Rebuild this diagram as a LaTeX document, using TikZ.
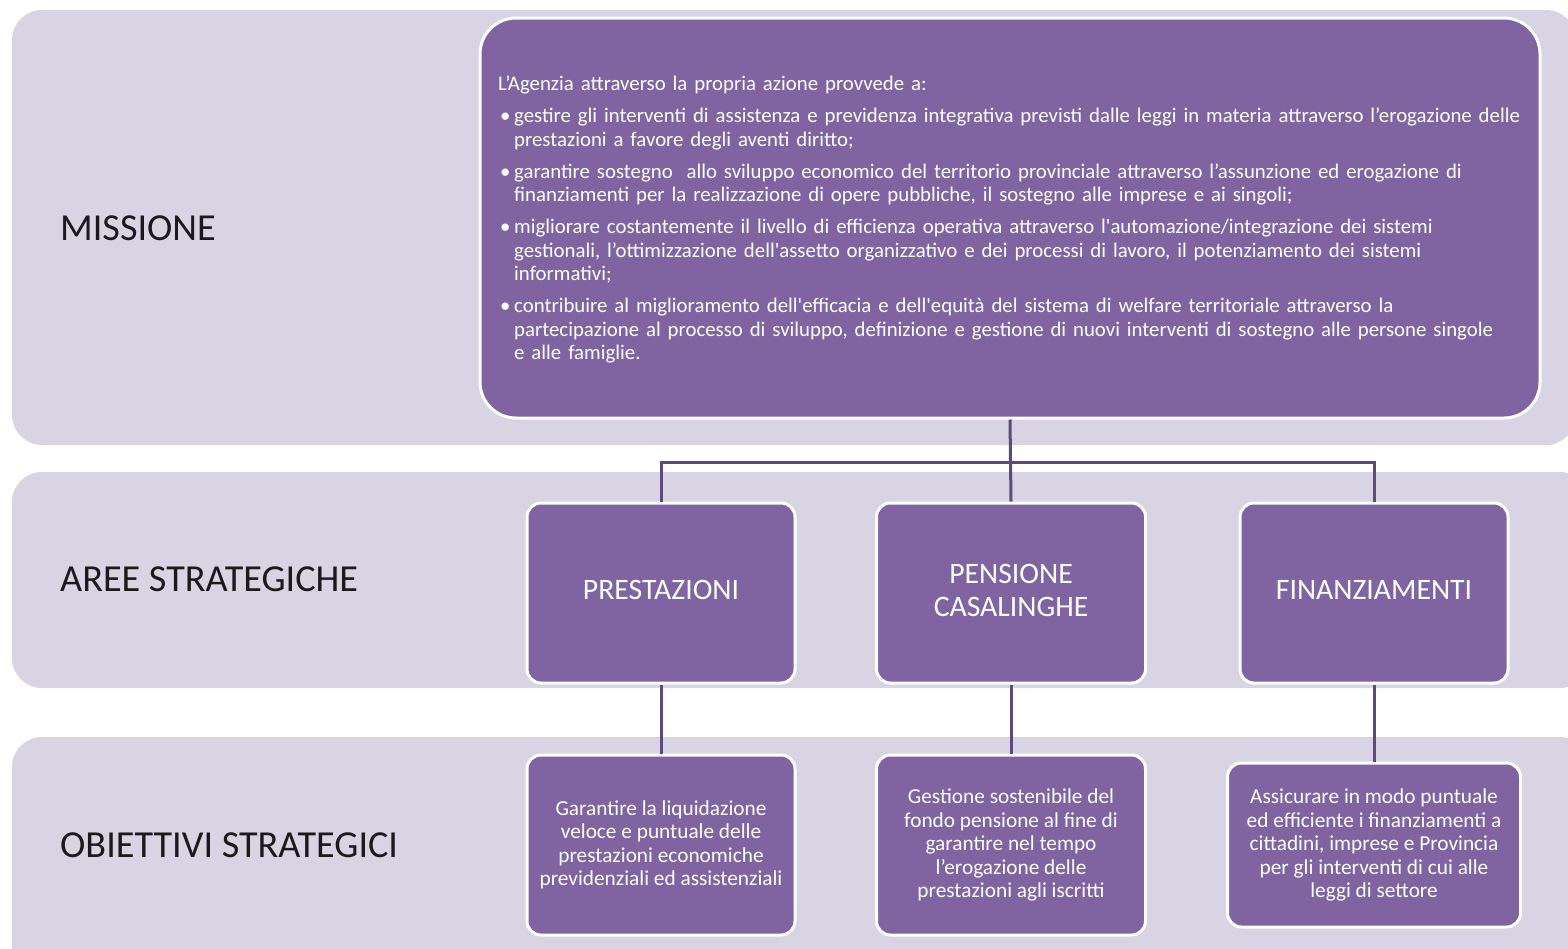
\documentclass[tikz,border=0pt]{standalone}
\usepackage{fontspec}
\setmainfont{Carlito}
\definecolor{bandc}{HTML}{D9D4E3}
\definecolor{purp}{HTML}{8064A2}
\definecolor{connc}{HTML}{5F497A}
\definecolor{lblc}{HTML}{1A1A1A}
\newcommand{\mybul}{\makebox[16pt][l]{\hspace{2pt}\textbullet}}
\newcommand{\myind}{\hspace*{16pt}}
\begin{document}
\begin{tikzpicture}[x=1pt,y=-1pt,
  bandbox/.style={fill=bandc, draw=none, rounded corners=30pt},
  lbl/.style={text=lblc, font=\fontsize{38.2}{44}\selectfont, inner sep=0pt, anchor=base west},
  purpbox/.style={fill=purp, draw=white, line width=3pt, text=white, align=center, inner sep=0pt},
  areabox/.style={purpbox, rounded corners=14pt, font=\fontsize{29.7}{33}\selectfont, text depth=6pt},
  objbox/.style={purpbox, rounded corners=14pt, font=\fontsize{21.3}{23.5}\selectfont},
  conn/.style={draw=connc, line width=3pt}
]
\useasboundingbox (0,0) rectangle (1568,948);
\clip (0,0) rectangle (1568,948);
% bands
\fill[bandbox] (12,10) rectangle (1576,445);
\fill[bandbox] (12,472) rectangle (1590,688);
\fill[bandbox] (12,737) rectangle (1590,990);
% labels
\node[lbl] (l1) at (60,240) {MISSIONE};
\node[lbl] (l2) at (60,591) {AREE STRATEGICHE};
\node[lbl] (l3) at (60,857) {OBIETTIVI STRATEGICI};
% mission box
\node[purpbox, rounded corners=36pt, minimum width=1060pt, minimum height=400pt] (mis) at (1010,218) {};
\node[text=white, inner sep=0pt, anchor=north west, align=left, text width=1040pt,
      font=\fontsize{20.8}{23.5}\selectfont] (mtext) at (498,76) {%
L’Agenzia attraverso la propria azione provvede a:\\[8.5pt]
\mybul gestire gli interventi di assistenza e previdenza integrativa previsti dalle leggi in materia attraverso l’erogazione delle\\
\myind prestazioni a favore degli aventi diritto;\\[8.5pt]
\mybul garantire sostegno\ \ allo sviluppo economico del territorio provinciale attraverso l’assunzione ed erogazione di\\
\myind finanziamenti per la realizzazione di opere pubbliche, il sostegno alle imprese e ai singoli;\\[8.5pt]
\mybul migliorare costantemente il livello di efficienza operativa attraverso l\textquotesingle automazione/integrazione dei sistemi\\
\myind gestionali, l’ottimizzazione dell\textquotesingle assetto organizzativo e dei processi di lavoro, il potenziamento dei sistemi\\
\myind informativi;\\[8.5pt]
\mybul contribuire al miglioramento dell\textquotesingle efficacia e dell\textquotesingle equità del sistema di welfare territoriale attraverso la\\
\myind partecipazione al processo di sviluppo, definizione e gestione di nuovi interventi di sostegno alle persone singole\\
\myind e alle famiglie.};
% area boxes
\node[areabox, minimum width=268pt, minimum height=180pt] (a1) at (661,593) {PRESTAZIONI};
\node[areabox, minimum width=269pt, minimum height=180pt] (a2) at (1011,593) {PENSIONE\\CASALINGHE};
\node[areabox, minimum width=268pt, minimum height=180pt] (a3) at (1374,593) {FINANZIAMENTI};
% objective boxes
\node[objbox, minimum width=268pt, minimum height=180pt] (o1) at (661,845) {Garantire la liquidazione\\veloce e puntuale delle\\prestazioni economiche\\previdenziali ed assistenziali};
\node[objbox, minimum width=269pt, minimum height=180pt] (o2) at (1011,845) {Gestione sostenibile del\\fondo pensione al fine di\\garantire nel tempo\\l’erogazione delle\\prestazioni agli iscritti};
\node[objbox, minimum width=293pt, minimum height=164pt] (o3) at (1374,845) {Assicurare in modo puntuale\\ed efficiente i finanziamenti a\\cittadini, imprese e Provincia\\per gli interventi di cui alle\\leggi di settore};
% connectors
\coordinate (hl) at (0,462);
\draw[conn] (mis.south) -- (a2.north);
\draw[conn] (a1.north) -- (a1.north |- hl) -- (a3.north |- hl) -- (a3.north);
\draw[conn] (a1.south) -- (o1.north);
\draw[conn] (a2.south) -- (o2.north);
\draw[conn] (a3.south) -- (o3.north);
\end{tikzpicture}
\end{document}
